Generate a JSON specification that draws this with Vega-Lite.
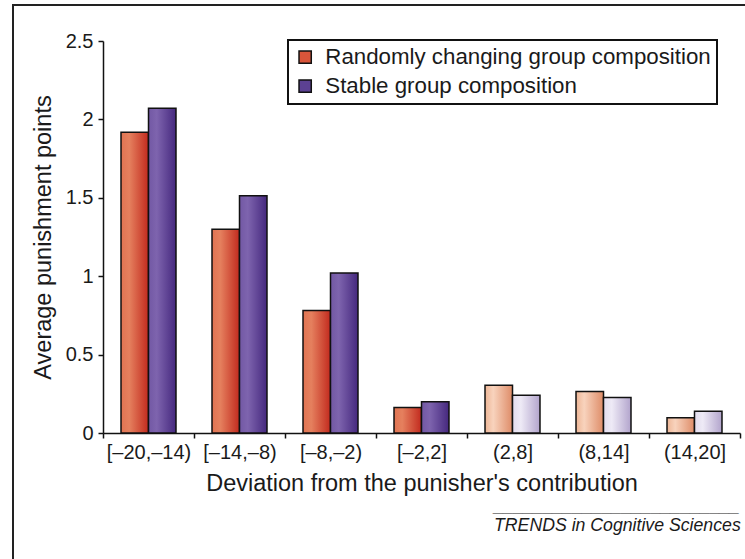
{
  "$schema": "https://vega.github.io/schema/vega-lite/v6.json",
  "autosize": "none",
  "width": 637,
  "height": 392,
  "padding": {"left": 103, "top": 41, "right": 5, "bottom": 126},
  "background": "white",
  "config": {
    "view": {"stroke": null},
    "font": "Liberation Sans",
    "legend": {"strokeWidth": 2}
  },
  "data": {
    "values": [
      {"dev": "[–20,–14)", "group": "Randomly changing group composition", "value": 1.918},
      {"dev": "[–20,–14)", "group": "Stable group composition", "value": 2.071},
      {"dev": "[–14,–8)", "group": "Randomly changing group composition", "value": 1.299},
      {"dev": "[–14,–8)", "group": "Stable group composition", "value": 1.513},
      {"dev": "[–8,–2)", "group": "Randomly changing group composition", "value": 0.782},
      {"dev": "[–8,–2)", "group": "Stable group composition", "value": 1.02},
      {"dev": "[–2,2]", "group": "Randomly changing group composition", "value": 0.162},
      {"dev": "[–2,2]", "group": "Stable group composition", "value": 0.2},
      {"dev": "(2,8]", "group": "Randomly changing group composition", "value": 0.304},
      {"dev": "(2,8]", "group": "Stable group composition", "value": 0.24},
      {"dev": "(8,14]", "group": "Randomly changing group composition", "value": 0.264},
      {"dev": "(8,14]", "group": "Stable group composition", "value": 0.226},
      {"dev": "(14,20]", "group": "Randomly changing group composition", "value": 0.098},
      {"dev": "(14,20]", "group": "Stable group composition", "value": 0.138}
    ]
  },
  "encoding": {
    "x": {
      "field": "dev",
      "type": "nominal",
      "sort": ["[–20,–14)", "[–14,–8)", "[–8,–2)", "[–2,2]", "(2,8]", "(8,14]", "(14,20]"],
      "scale": {"paddingInner": 0, "paddingOuter": 0},
      "axis": {
        "title": "Deviation from the punisher's contribution",
        "labelAngle": 0,
        "tickBand": "extent",
        "domainColor": "#111",
        "domainWidth": 1.5,
        "tickColor": "#111",
        "tickWidth": 1.5,
        "tickSize": 5,
        "labelFont": "Liberation Sans",
        "labelFontSize": 20,
        "labelColor": "#1a1a1a",
        "labelPadding": 4,
        "titleFont": "Liberation Sans",
        "titleFontSize": 23.5,
        "titleFontWeight": "normal",
        "titleColor": "#1a1a1a",
        "titlePadding": 9
      }
    },
    "xOffset": {
      "field": "group",
      "type": "nominal",
      "sort": ["Randomly changing group composition", "Stable group composition"],
      "scale": {"paddingInner": 0, "paddingOuter": 0.655}
    },
    "y": {
      "field": "value",
      "type": "quantitative",
      "scale": {"domain": [0, 2.5], "nice": false},
      "axis": {
        "title": "Average punishment points",
        "values": [0, 0.5, 1, 1.5, 2, 2.5],
        "format": "~g",
        "grid": false,
        "domainColor": "#111",
        "domainWidth": 1.5,
        "tickColor": "#111",
        "tickWidth": 1.5,
        "tickSize": 5,
        "labelFont": "Liberation Sans",
        "labelFontSize": 20,
        "labelColor": "#1a1a1a",
        "labelPadding": 5,
        "titleFont": "Liberation Sans",
        "titleFontSize": 23.5,
        "titleFontWeight": "normal",
        "titleColor": "#1a1a1a",
        "titlePadding": 10
      }
    }
  },
  "layer": [
    {
      "transform": [
        {"filter": "datum.group === 'Randomly changing group composition'"},
        {"filter": "indexof(['(2,8]','(8,14]','(14,20]'], datum.dev) < 0"}
      ],
      "mark": {
        "type": "bar",
        "stroke": "#111",
        "strokeWidth": 1.5,
        "fill": {"gradient": "linear", "x1": 0, "y1": 0, "x2": 1, "y2": 0,
          "stops": [{"offset": 0, "color": "#e07452"}, {"offset": 0.3, "color": "#e5805e"}, {"offset": 1, "color": "#c22a1e"}]}
      }
    },
    {
      "transform": [
        {"filter": "datum.group === 'Stable group composition'"},
        {"filter": "indexof(['(2,8]','(8,14]','(14,20]'], datum.dev) < 0"}
      ],
      "mark": {
        "type": "bar",
        "stroke": "#111",
        "strokeWidth": 1.5,
        "fill": {"gradient": "linear", "x1": 0, "y1": 0, "x2": 1, "y2": 0,
          "stops": [{"offset": 0, "color": "#7258a4"}, {"offset": 0.3, "color": "#7e64ae"}, {"offset": 1, "color": "#45287e"}]}
      }
    },
    {
      "transform": [
        {"filter": "datum.group === 'Randomly changing group composition'"},
        {"filter": "indexof(['(2,8]','(8,14]','(14,20]'], datum.dev) >= 0"}
      ],
      "mark": {
        "type": "bar",
        "stroke": "#111",
        "strokeWidth": 1.5,
        "fill": {"gradient": "linear", "x1": 0, "y1": 0, "x2": 1, "y2": 0,
          "stops": [{"offset": 0, "color": "#eeb696"}, {"offset": 0.3, "color": "#f8d3bd"}, {"offset": 1, "color": "#de8c68"}]}
      }
    },
    {
      "transform": [
        {"filter": "datum.group === 'Stable group composition'"},
        {"filter": "indexof(['(2,8]','(8,14]','(14,20]'], datum.dev) >= 0"}
      ],
      "mark": {
        "type": "bar",
        "stroke": "#111",
        "strokeWidth": 1.5,
        "fill": {"gradient": "linear", "x1": 0, "y1": 0, "x2": 1, "y2": 0,
          "stops": [{"offset": 0, "color": "#e2dcee"}, {"offset": 0.3, "color": "#eeeaf6"}, {"offset": 1, "color": "#b2a4cc"}]}
      }
    },
    {
      "mark": {"type": "square", "opacity": 0},
      "encoding": {
        "color": {
          "field": "group",
          "type": "nominal",
          "sort": ["Randomly changing group composition", "Stable group composition"],
          "scale": {"range": ["#d9553a", "#5c4193"]},
          "legend": {
            "title": null,
            "orient": "none",
            "legendX": 185,
            "legendY": -1,
            "padding": 6,
            "strokeColor": "#111",
            "fillColor": "white",
            "symbolType": "square",
            "symbolSize": 150,
            "symbolStrokeColor": "#111",
            "symbolStrokeWidth": 1.5,
            "symbolOpacity": 1,
            "symbolOffset": 0,
            "labelFont": "Liberation Sans",
            "labelFontSize": 22.3,
            "labelColor": "#1a1a1a",
            "labelOffset": 9,
            "labelLimit": 600,
            "rowPadding": 6
          }
        }
      }
    },
    {
      "mark": {"type": "point", "opacity": 0},
      "encoding": {
        "shape": {
          "datum": "frame",
          "legend": {
            "title": null,
            "orient": "none",
            "legendX": -90,
            "legendY": -36,
            "padding": 380,
            "strokeColor": "#222",
            "symbolOpacity": 0,
            "labelOpacity": 0
          }
        }
      }
    },
    {
      "mark": {"type": "point", "opacity": 0},
      "encoding": {
        "strokeDash": {
          "datum": "credit",
          "legend": {
            "title": ["_________________________", "TRENDS in Cognitive Sciences"],
            "orient": "none",
            "legendX": 391,
            "legendY": 457,
            "padding": 0,
            "titleFont": "Liberation Sans",
            "titleFontSize": 17.7,
            "titleFontStyle": "italic",
            "titleFontWeight": "normal",
            "titleColor": "#1a1a1a",
            "titleLineHeight": 19,
            "titleLimit": 400,
            "titlePadding": 0,
            "symbolOpacity": 0,
            "labelOpacity": 0,
            "labelFontSize": 1,
            "symbolSize": 1
          }
        }
      }
    }
  ]
}
